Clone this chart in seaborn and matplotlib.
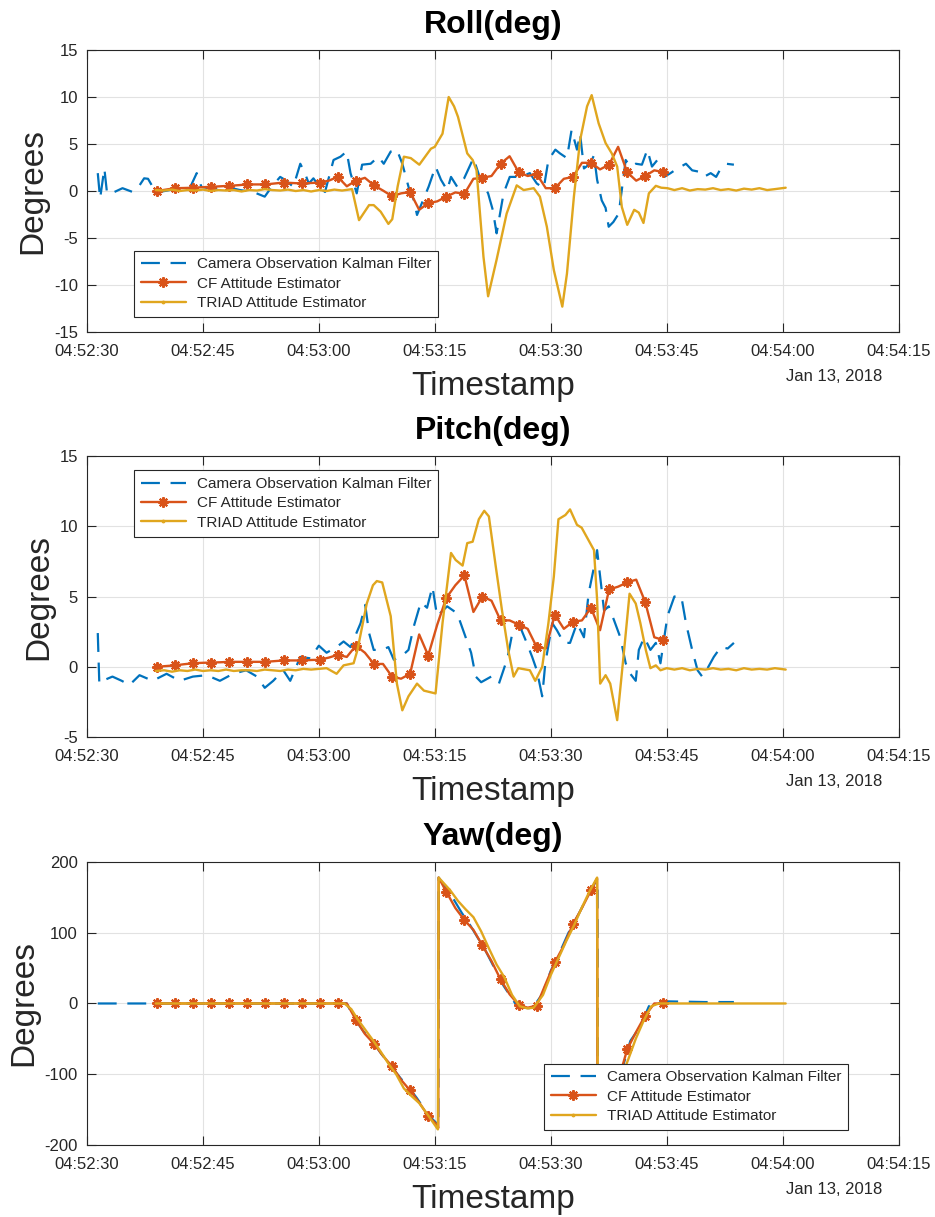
"""
Attitude estimates (roll / pitch / yaw) from three estimators, MATLAB-style figure.
"""

import numpy as np
import pandas as pd
import matplotlib
matplotlib.use("Agg")
import matplotlib.pyplot as plt
import matplotlib.dates as mdates
import seaborn as sns

# ---- data (seconds after 04:52:30, degrees) ----
T0 = pd.Timestamp("2018-01-13 04:52:30")

# Camera Observation Kalman Filter
cam_roll_t = [1.4, 1.7, 2.25, 2.6, 3.3, 4.6, 5.9, 6.8, 7.4, 7.9, 8.5, 9.4, 10.7, 12.0, 13.3, 14.2, 14.8,
              16.3, 18.0, 19.8, 21.5, 23.0, 23.9, 25.0, 25.6, 26.7, 27.6, 28.2, 28.7, 29.3, 30.2, 30.8,
              31.9, 32.8, 33.6, 34.1, 34.9, 35.6, 36.7, 37.7, 38.4, 39.3, 40.1, 40.8, 41.6, 42.3, 42.7,
              44.2, 45.1, 45.8, 46.6, 47.1, 47.9, 48.8, 50.0, 50.8, 51.9, 52.5, 53.0, 53.9, 54.7, 56.0,
              57.3, 58.2, 59.1, 59.7, 60.6, 61.2, 62.1, 62.7, 63.4, 63.8, 64.3, 65.1, 65.6, 66.0, 66.6,
              67.1, 67.5, 68.1, 68.8, 69.7, 70.3, 71.0, 71.8, 72.5, 73.1, 73.8, 74.7, 75.5, 76.4, 77.5,
              78.3, 79.2, 79.8, 80.7, 81.4, 82.0, 82.7, 83.7]
cam_roll = [1.9, -0.8, 2.4, -0.25, -0.2, 0.3, -0.1, 0.6, 1.35, 1.3, 0.45, -0.1, 0.1, 0.35, 0.3, 1.9, 0.45,
            0.2, 0.45, 0.1, -0.1, -0.6, 0.45, 1.5, 1.2, 0.45, 2.9, 1.9, 0.8, 1.35, 0.3, -0.1,
            3.3, 3.65, 4.2, 1.9, -0.25, 2.8, 2.9, 3.65, 2.9, 4.2, 4.4, 2.9, 0.45, -1.0, -2.55,
            0.45, 2.6, 1.2, 0.1, 1.5, 0.45, 1.35, 3.5, 1.5, -0.25, -2.0, -4.5, -0.25, 1.5, 1.5,
            1.9, 0.8, 0.3, 3.3, 4.4, 4.0, 3.5, 6.5, 4.4, 6.1, 2.4, 2.9, 3.8, 1.2, -1.0,
            -1.8, -3.8, -3.3, -2.4, 3.3, 2.6, 2.9, 2.8, 4.4, 2.6, 3.3, 1.5, 1.9, 2.4, 2.9,
            2.2, 2.05, 1.5, 1.9, 1.5, 2.4, 2.9, 2.8]

cam_pitch_t = [1.4, 1.6, 2.0, 3.3, 4.5, 5.5, 6.8, 8.5, 10.3, 12.0, 13.7, 15.5, 17.2, 18.9, 20.6, 22.0,
               23.0, 24.1, 25.4, 26.3, 27.6, 28.9, 30.0, 31.0, 32.3, 33.2, 34.1, 35.4, 36.0, 36.5, 37.1,
               38.2, 39.0, 39.7, 40.6, 41.6, 42.3, 43.2, 44.0, 44.7, 45.3, 46.6, 47.9, 48.8, 49.7, 50.3,
               51.0, 52.3, 53.3, 54.4, 55.0, 56.0, 56.9, 57.6, 58.2, 58.9, 59.3, 60.2, 60.8, 61.7, 62.5,
               63.4, 64.3, 64.9, 65.6, 66.0, 66.4, 66.9, 67.5, 68.2, 69.0, 69.7, 70.3, 71.0, 71.4, 72.1,
               72.9, 73.6, 74.2, 75.1, 76.0, 76.9, 77.5, 78.3, 79.0, 79.6, 80.3, 81.1, 82.0, 82.9, 83.7]
cam_pitch = [2.4, -1.2, -1.0, -0.7, -1.0, -1.3, -0.6, -1.0, -0.5, -1.0, -0.7, -0.6, -1.0, -0.5, -0.25, -0.7,
             -1.5, -1.0, -0.25, -1.0, 0.7, 0.6, 1.5, 1.0, 1.4, 1.8, 1.4, 3.1, 4.4, 2.4, 1.2,
             1.2, 1.4, 0.5, 0.7, 1.2, 2.9, 4.6, 4.2, 5.7, 3.6, 4.3, 3.8, 2.4, 1.0, -0.7,
             -1.1, -0.7, -1.2, 0.6, 2.3, 2.9, 1.7, 0.7, -0.25, -2.1, 0.25, 3.1, 2.6, 1.7, 1.7,
             3.1, 2.1, 5.2, 7.1, 8.3, 6.4, 4.0, 4.3, 3.3, 2.1, 0.25, -0.5, -1.0, 1.2, 2.1,
             1.2, 1.7, 0.25, 3.6, 5.0, 5.0, 3.1, 1.2, -0.25, -0.7, -0.1, 0.7, 1.4, 1.3, 1.7]

cam_yaw_t = [1.4, 33.6, 34.5, 35.8, 36.9, 38.0, 39.3, 40.6, 41.6, 42.7, 44.2, 45.3, 45.45, 45.5, 46.3,
             47.4, 48.5, 49.5, 51.5, 53.9, 55.6, 56.5, 57.6, 58.9, 60.0, 61.0, 62.3, 63.6, 64.7, 65.8,
             66.05, 66.1, 67.0, 68.0, 69.0, 70.3, 71.6, 72.7, 73.4, 75.0, 80.0, 83.7]
cam_yaw = [0, 0, -19, -40, -52, -70, -88, -106, -118, -134, -158, -170, -175, 178, 166,
           148, 128, 112, 76, 25, -3, -6, -7, 13, 46, 68, 100, 126, 150, 172,
           176, -177, -158, -133, -102, -53, -32, -4, 2, 3, 2, 2]

# CF Attitude Estimator (uniform log, a marker on every second sample)
CF_START = 9.05
CF_STEP = 1.17
cf_roll = [0.0, 0.15, 0.3, 0.32, 0.35, 0.4, 0.45, 0.5, 0.55, 0.62, 0.7, 0.7, 0.7, 0.8, 0.9, 0.85,
           0.8, 0.85, 0.9, 1.1, 1.5, 0.5, 1.1, 1.4, 0.6, 0.05, -0.55, -0.25, -0.1, -2.0, -1.3,
           -1.1, -0.6, -0.15, -0.3, 1.3, 1.4, 1.6, 2.9, 3.7, 2.0, 1.6, 1.8, 0.3, 0.3, 1.3, 1.5,
           3.0, 3.0, 2.3, 2.8, 4.7, 2.0, 1.1, 1.6, 2.2, 2.0]
cf_pitch = [0.0, 0.05, 0.1, 0.18, 0.25, 0.28, 0.3, 0.32, 0.35, 0.35, 0.35, 0.35, 0.35, 0.4, 0.45, 0.45,
            0.45, 0.48, 0.5, 0.65, 0.85, 0.7, 1.5, 1.0, 0.2, 0.2, -0.7, -0.85, -0.5, 2.3, 0.8,
            3.0, 4.9, 5.8, 6.5, 3.9, 5.0, 4.7, 3.3, 3.3, 3.0, 2.7, 1.4, 1.3, 3.7, 2.7, 3.2,
            3.3, 4.2, 2.6, 5.5, 5.7, 6.0, 6.2, 4.6, 2.1, 1.9]
# yaw keeps the two wrap-around samples at +-180
cf_yaw_jump_t = [45.45, 45.5, 66.0, 66.05]
cf_yaw = [0] * 22 + [-23, -43, -57, -74, -89, -108, -123, -140, -159, -172,
                     -176, 178,
                     158, 135, 118, 104, 82, 60, 34, 13, -2, -6, -3, 28, 58, 82, 112, 135, 160,
                     177, -178,
                     -172, -147, -110, -65, -40, -17, 0, 0]

# TRIAD Attitude Estimator
triad_roll_t = [8.9, 10, 11, 12, 13, 14, 15, 16, 17, 18, 19, 20, 21, 22, 23, 24, 25, 26, 27, 28, 29, 30,
                31, 32, 33, 34.3, 35.2, 36.5, 37.1, 38.0, 39.0, 39.5, 40.2, 41.0, 41.9, 43.0, 44.5, 45.0,
                46.0, 46.8, 47.5, 48.0, 49.2, 49.9, 50.4, 51.3, 51.9, 53.0, 54.3, 55.6, 56.5, 57.8, 58.6,
                59.5, 60.4, 61.5, 62.1, 63.0, 63.8, 64.7, 65.3, 66.2, 67.1, 67.9, 68.6, 69.2, 69.9, 70.8,
                71.4, 72.0, 72.7, 73.6, 74.3, 75.1, 76, 77, 78, 79, 80, 81, 82, 83, 84, 85, 86, 87, 88,
                89, 90.4]
triad_roll = [0.1, 0.05, 0.15, 0.0, 0.1, 0.05, 0.15, 0.0, 0.1, 0.05, 0.1, -0.05, 0.1, 0.05, 0.2, 0.1, 0.05,
              0.15, 0.0, 0.1, -0.05, 0.1, 0.0, 0.15, 0.05, 0.2, -3.1, -1.5, -1.5, -2.2, -3.5, -3.0, 0.5,
              3.65, 3.5, 2.8, 4.5, 4.7, 6.1, 10.0, 9.0, 7.9, 4.0, 3.3, 2.2, -7.0, -11.2, -7.3, -2.4,
              0.6, 0.1, 0.3, -0.6, -3.8, -8.4, -12.3, -8.8, -0.6, 5.4, 9.0, 10.2, 7.2, 5.1, 4.0, 2.6,
              -1.7, -3.6, -2.0, -2.3, -3.4, -0.25, 0.55, 0.35, 0.3, 0.1, 0.3, 0.05, 0.2, 0.15, 0.3,
              0.1, 0.2, 0.05, 0.25, 0.15, 0.3, 0.1, 0.2, 0.35]

triad_pitch_t = [8.9, 10, 11, 12, 13, 14, 15, 16, 17, 18, 19, 20, 21, 22, 23, 24, 25, 26, 27, 28, 29, 30,
                 31, 32.3, 33.2, 34.5, 35.0, 36.2, 37.0, 37.5, 38.2, 39.3, 40.1, 40.8, 41.6, 42.7, 43.6,
                 45.1, 46.0, 47.1, 47.7, 48.6, 49.2, 49.9, 50.7, 51.4, 52.0, 52.9, 53.7, 54.5, 55.2, 55.8,
                 57.3, 58.0, 58.9, 59.7, 60.4, 61.0, 61.9, 62.5, 63.4, 64.0, 65.1, 65.6, 66.0, 66.4, 67.1,
                 67.7, 68.6, 69.5, 70.2, 71.0, 71.6, 72.3, 72.9, 73.6, 74.2, 75, 76, 77, 78, 79, 80, 81,
                 82, 83, 84, 85, 86, 87, 88, 89, 90.4]
triad_pitch = [-0.3, -0.25, -0.35, -0.25, -0.3, -0.2, -0.3, -0.25, -0.3, -0.2, -0.3, -0.25, -0.25, -0.3,
               -0.2, -0.25, -0.3, -0.2, -0.25, -0.15, -0.2, -0.15, -0.1, -0.5, 0.1, 0.25, 1.2, 4.5, 5.8,
               6.1, 6.0, 3.6, -1.2, -3.1, -2.1, -1.2, -1.7, -1.9, 3.1, 8.1, 7.6, 7.2, 8.8, 8.9, 10.5,
               11.1, 10.7, 7.1, 4.0, 1.2, -0.7, -0.1, -0.25, -1.0, 0.0, 3.1, 6.4, 10.5, 10.8, 11.2,
               10.1, 9.9, 8.8, 8.3, 4.8, -1.2, -0.6, -1.2, -3.8, 1.2, 5.2, 4.5, 3.1, 1.2, -0.1, 0.1,
               -0.25, -0.1, -0.2, -0.1, -0.25, -0.15, -0.2, -0.1, -0.2, -0.15, -0.25, -0.1, -0.2, -0.15,
               -0.2, -0.1, -0.2]

triad_yaw_t = [8.9, 20, 33.3, 34.2, 35, 36, 37, 38, 39, 40, 41, 42, 43, 44, 45.4, 45.5, 46, 47, 48, 49,
               50, 51, 52, 53, 54, 55, 56, 57, 57.8, 59, 60, 61, 62, 63, 64, 65, 66, 66.1, 67, 68, 69,
               70, 71, 72, 73, 74, 80, 90.4]
triad_yaw = [0, 0, 0, -8, -22, -37, -52, -68, -85, -100, -120, -131, -141, -156, -178, 178, 172, 160,
             145, 133, 122, 102, 78, 55, 37, 12, -4, -7, -6, 12, 40, 64, 88, 110, 135, 158, 178, -178,
             -160, -135, -108, -80, -50, -25, -4, 0, 0, 0]

titles = ["Roll(deg)", "Pitch(deg)", "Yaw(deg)"]
ylims = [(-15, 15), (-5, 15), (-200, 200)]
yticks = [[-15, -10, -5, 0, 5, 10, 15], [-5, 0, 5, 10, 15], [-200, -100, 0, 100, 200]]
labels = ["Camera Observation Kalman Filter", "CF Attitude Estimator", "TRIAD Attitude Estimator"]

BLUE, ORANGE, GOLD = "#0072BD", "#D95319", "#E0A61E"
INK = "#262626"


def to_time(sec):
    return T0 + pd.to_timedelta(np.asarray(sec, dtype=float), unit="s")


# CF time stamps
cf_grid = list(np.round(CF_START + CF_STEP * np.arange(len(cf_roll)), 2))
cf_yaw_t = cf_grid[:32] + cf_yaw_jump_t[:2] + cf_grid[32:49] + cf_yaw_jump_t[2:] + cf_grid[49:]
cf_mark_t = set(cf_grid[::2])

sns.set_style("whitegrid", {
    "axes.edgecolor": INK,
    "grid.color": "#E2E2E2",
    "xtick.color": INK,
    "ytick.color": INK,
    "text.color": INK,
    "axes.labelcolor": INK,
})
plt.rcParams["font.family"] = ["Liberation Sans", "DejaVu Sans"]
plt.rcParams["axes.unicode_minus"] = False

fig = plt.figure(figsize=(9.35, 12.17), dpi=100)
boxes = [[0.093, 0.7272, 0.868, 0.2317],
         [0.093, 0.3944, 0.868, 0.2309],
         [0.093, 0.0592, 0.868, 0.2325]]

panels = [
    (cam_roll_t, cam_roll, cf_grid, cf_roll, triad_roll_t, triad_roll),
    (cam_pitch_t, cam_pitch, cf_grid, cf_pitch, triad_pitch_t, triad_pitch),
    (cam_yaw_t, cam_yaw, cf_yaw_t, cf_yaw, triad_yaw_t, triad_yaw),
]
legend_pos = [("lower left", (0.058, 0.053)),
              ("upper left", (0.058, 0.95)),
              ("lower right", (0.938, 0.053))]

for i, (ct, cv, ft, fv, tt, tv) in enumerate(panels):
    ax = fig.add_axes(boxes[i])

    sns.lineplot(x=to_time(ct), y=cv, ax=ax, color=BLUE, lw=1.6, estimator=None, sort=False,
                 linestyle=(0, (8.5, 4.8)), label=labels[0])
    marks = [j for j, t in enumerate(ft) if t in cf_mark_t]
    sns.lineplot(x=to_time(ft), y=fv, ax=ax, color=ORANGE, lw=1.7, estimator=None, sort=False,
                 marker=(8, 2, 0), markersize=7.5, markeredgewidth=1.5, markeredgecolor=ORANGE,
                 markevery=marks, label=labels[1])
    # the dot marker of the dense TRIAD log only shows in the legend
    sns.lineplot(x=to_time(tt), y=tv, ax=ax, color=GOLD, lw=1.7, estimator=None, sort=False,
                 marker=".", markersize=4, markeredgecolor=GOLD, markevery=[], label=labels[2])

    ax.set_xlim(T0, T0 + pd.Timedelta(seconds=105))
    ax.xaxis.set_major_locator(mdates.SecondLocator(bysecond=[0, 15, 30, 45]))
    ax.xaxis.set_major_formatter(mdates.DateFormatter("%H:%M:%S"))
    ax.set_ylim(*ylims[i])
    ax.set_yticks(yticks[i])

    ax.grid(True, color="#E2E2E2", lw=0.8)
    for sp in ax.spines.values():
        sp.set_visible(True)
        sp.set_color(INK)
        sp.set_linewidth(0.8)
    ax.tick_params(direction="in", length=6.5, width=0.8, top=True, right=True,
                   bottom=True, left=True, labelsize=12, colors=INK)
    ax.tick_params(axis="x", pad=8.5)
    ax.tick_params(axis="y", pad=6.5)

    ax.set_title(titles[i], fontsize=23, fontweight="bold", pad=12, color="black")
    ax.set_xlabel("Timestamp", fontsize=24, labelpad=8.5)
    ax.set_ylabel("Degrees", fontsize=24, labelpad=4)
    ax.annotate("Jan 13, 2018", xy=(1, 0), xycoords="axes fraction", xytext=(-11.5, -35.3),
                textcoords="offset points", ha="right", va="baseline", fontsize=12, color=INK)

    loc, anchor = legend_pos[i]
    leg = ax.legend(loc=loc, bbox_to_anchor=anchor, borderaxespad=0, fontsize=11,
                    handlelength=2.95, handletextpad=0.72, labelspacing=0.35, borderpad=0.45,
                    fancybox=False, framealpha=1, edgecolor=INK)
    leg.get_frame().set_linewidth(0.8)

plt.savefig("out.png", dpi=100)
plt.close()
